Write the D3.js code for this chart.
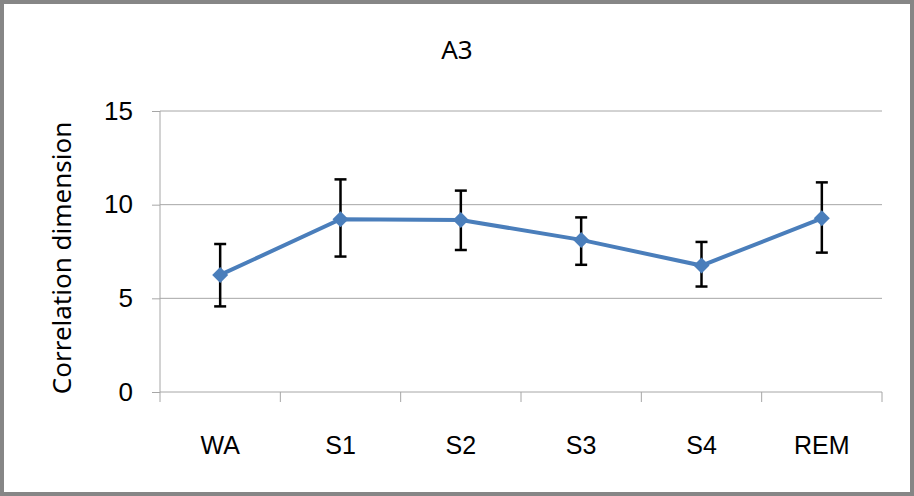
<!DOCTYPE html>
<html>
<head>
<meta charset="utf-8">
<script src="https://cdn.jsdelivr.net/npm/d3@7"></script>
<style>
  html, body { margin: 0; padding: 0; background: #fff; }
  svg { display: block; font-family: "Noto Sans", "Open Sans", sans-serif; }
</style>
</head>
<body>
<div id="chart"></div>
<script>
const stages = ["WA", "S1", "S2", "S3", "S4", "REM"];
const means = [6.25, 9.22, 9.18, 8.12, 6.75, 9.27];
const upper = [7.9, 11.35, 10.75, 9.32, 8.01, 11.19];
const lower = [4.57, 7.23, 7.58, 6.79, 5.63, 7.44];
const yTicks = [0, 5, 10, 15];

const W = 914, H = 496;
const margin = { top: 111, right: 32, bottom: 104, left: 160 };

const svg = d3.select('#chart').append('svg')
  .attr('width', W)
  .attr('height', H);

// outer frame
svg.append('rect')
  .attr('x', 2).attr('y', 2)
  .attr('width', W - 4).attr('height', H - 4)
  .attr('fill', '#fff')
  .attr('stroke', '#868686')
  .attr('stroke-width', 4);

const width = W - margin.left - margin.right;
const height = H - margin.top - margin.bottom;

const g = svg.append('g')
  .attr('transform', `translate(${margin.left},${margin.top})`);

const x = d3.scaleBand().domain(stages).range([0, width]);
const y = d3.scaleLinear().domain([0, 15]).range([height, 0]);

// gridlines
g.append('g')
  .selectAll('line')
  .data(yTicks.filter(t => t > 0))
  .enter().append('line')
    .attr('x1', 0).attr('x2', width)
    .attr('y1', d => y(d)).attr('y2', d => y(d))
    .attr('stroke', '#a6a6a6')
    .attr('stroke-width', 1);

// y axis
const yAxis = g.append('g')
  .call(d3.axisLeft(y).tickValues(yTicks).tickSize(8).tickPadding(19));
yAxis.select('.domain').attr('stroke', '#a6a6a6').attr('d', `M0,${height}V0`);
yAxis.selectAll('.tick line').attr('stroke', '#a6a6a6');
yAxis.selectAll('text').attr('font-size', 26).attr('fill', '#000');

// x axis, ticks on category boundaries
const xAxis = g.append('g')
  .attr('transform', `translate(0,${height})`)
  .call(d3.axisBottom(x).tickSize(0).tickPadding(44));
xAxis.select('.domain').attr('stroke', '#a6a6a6').attr('d', `M0,0H${width}`);
xAxis.selectAll('text').attr('font-size', 25).attr('fill', '#000');
g.append('g')
  .attr('transform', `translate(0,${height})`)
  .selectAll('line')
  .data(stages.map(s => x(s)).concat([width]))
  .enter().append('line')
    .attr('x1', d => d).attr('x2', d => d)
    .attr('y1', 0).attr('y2', 10)
    .attr('stroke', '#a6a6a6');

const cx = s => x(s) + x.bandwidth() / 2;

// error bars
const err = g.append('g').attr('stroke', '#000').attr('stroke-width', 2.5);
stages.forEach((s, i) => {
  err.append('line')
    .attr('x1', cx(s)).attr('x2', cx(s))
    .attr('y1', y(upper[i])).attr('y2', y(lower[i]));
  [upper[i], lower[i]].forEach(v => {
    err.append('line')
      .attr('x1', cx(s) - 6).attr('x2', cx(s) + 6)
      .attr('y1', y(v)).attr('y2', y(v));
  });
});

// line
const line = d3.line()
  .x((d, i) => cx(stages[i]))
  .y(d => y(d));
g.append('path')
  .datum(means)
  .attr('d', line)
  .attr('fill', 'none')
  .attr('stroke', '#4a7ebb')
  .attr('stroke-width', 4);

// diamond markers
g.selectAll('.marker')
  .data(means)
  .enter().append('path')
    .attr('class', 'marker')
    .attr('transform', (d, i) => `translate(${cx(stages[i])},${y(d)})`)
    .attr('d', 'M0,-8L8,0L0,8L-8,0Z')
    .attr('fill', '#4a7ebb');

// title
svg.append('text')
  .attr('x', 457)
  .attr('y', 59)
  .attr('text-anchor', 'middle')
  .attr('font-size', 26)
  .text('A3');

// y label
svg.append('text')
  .attr('transform', `translate(71,258) rotate(-90)`)
  .attr('text-anchor', 'middle')
  .attr('font-size', 26)
  .text('Correlation dimension');
</script>
</body>
</html>
